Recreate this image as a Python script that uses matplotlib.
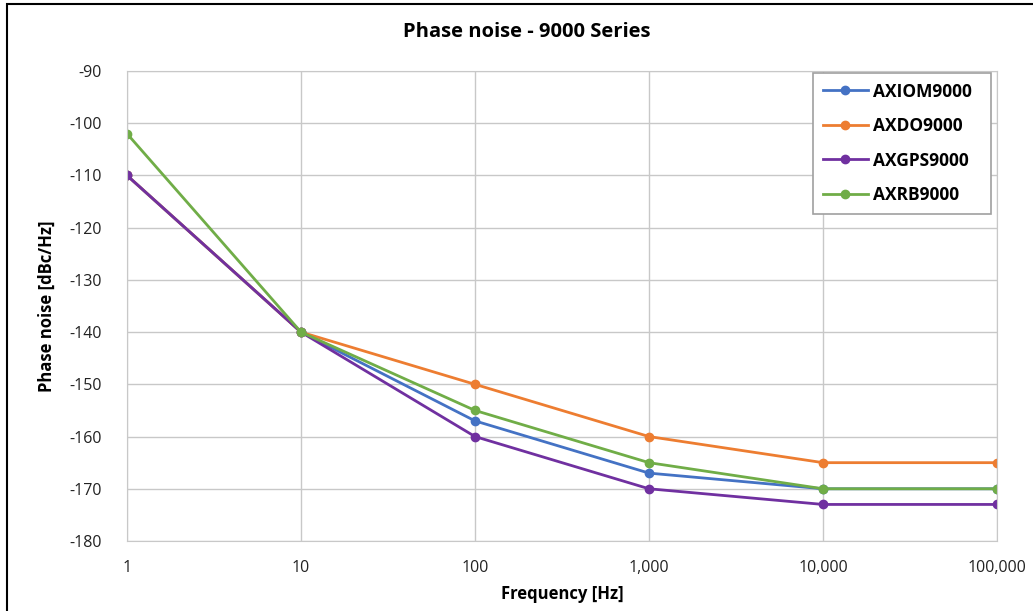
import matplotlib
matplotlib.use("Agg")
import matplotlib.pyplot as plt
from matplotlib.patches import Rectangle
from matplotlib.ticker import FuncFormatter, FixedLocator

plt.rcParams['font.family'] = ['Open Sans', 'DejaVu Sans']
plt.rcParams['axes.unicode_minus'] = False

freq = [1, 10, 100, 1000, 10000, 100000]
axiom = [-110, -140, -157, -167, -170, -170]
axdo = [-110, -140, -150, -160, -165, -165]
axgps = [-110, -140, -160, -170, -173, -173]
axrb = [-102, -140, -155, -165, -170, -170]

series = [
    ("AXIOM9000", axiom, "#4472c4"),
    ("AXDO9000", axdo, "#ed7d31"),
    ("AXGPS9000", axgps, "#7030a0"),
    ("AXRB9000", axrb, "#70ad47"),
]

fig = plt.figure(figsize=(10.33, 6.11), dpi=100)
ax = fig.add_axes([127 / 1033, 1 - 541 / 611, (997 - 127) / 1033, (541 - 71) / 611])

for name, vals, col in series:
    ax.plot(freq, vals, marker='o', markersize=6, linewidth=2, color=col, label=name)

ax.set_xscale('log')
ax.set_xlim(1, 100000)
ax.set_ylim(-180, -90)
ax.set_yticks(range(-180, -89, 10))
ax.xaxis.set_major_locator(FixedLocator(freq))
ax.xaxis.set_minor_locator(FixedLocator([]))
ax.xaxis.set_major_formatter(FuncFormatter(lambda v, p: f"{int(round(v)):,}"))

ax.grid(True, color='#c8c8c8', linewidth=1)
for s in ax.spines.values():
    s.set_color('#c8c8c8')
ax.tick_params(length=0, labelsize=11.5, colors='#222222')
ax.tick_params(axis='x', pad=14)
ax.tick_params(axis='y', pad=18)

fig.text(527 / 1033, 1 - 32 / 611, 'Phase noise - 9000 Series', fontsize=14.5,
         fontweight='bold', ha='center', va='center')
ax.set_xlabel('Frequency [Hz]', fontsize=12, fontweight='bold', labelpad=6)
ax.set_ylabel('Phase noise [dBc/Hz]', fontsize=12, fontweight='bold', labelpad=10)

# legend box spans the same area as in the original chart
leg = ax.legend(loc='upper left',
                bbox_to_anchor=(813 / 1033, 1 - 212 / 611, 178 / 1033, 139 / 611),
                bbox_transform=fig.transFigure, mode='expand', fancybox=False,
                framealpha=1, edgecolor='#a0a0a0',
                prop={'weight': 'bold', 'size': 12.5},
                labelspacing=0.95, handlelength=2.6, handletextpad=0.3,
                borderpad=0.55, borderaxespad=0)
leg.get_frame().set_linewidth(1.2)

fig.patches.append(Rectangle((7 / 1033, -0.05), 1.2, 1 - 4 / 611 + 0.05,
                             transform=fig.transFigure, fill=False,
                             edgecolor='black', linewidth=1.5))

fig.savefig('out.png', dpi=100)
